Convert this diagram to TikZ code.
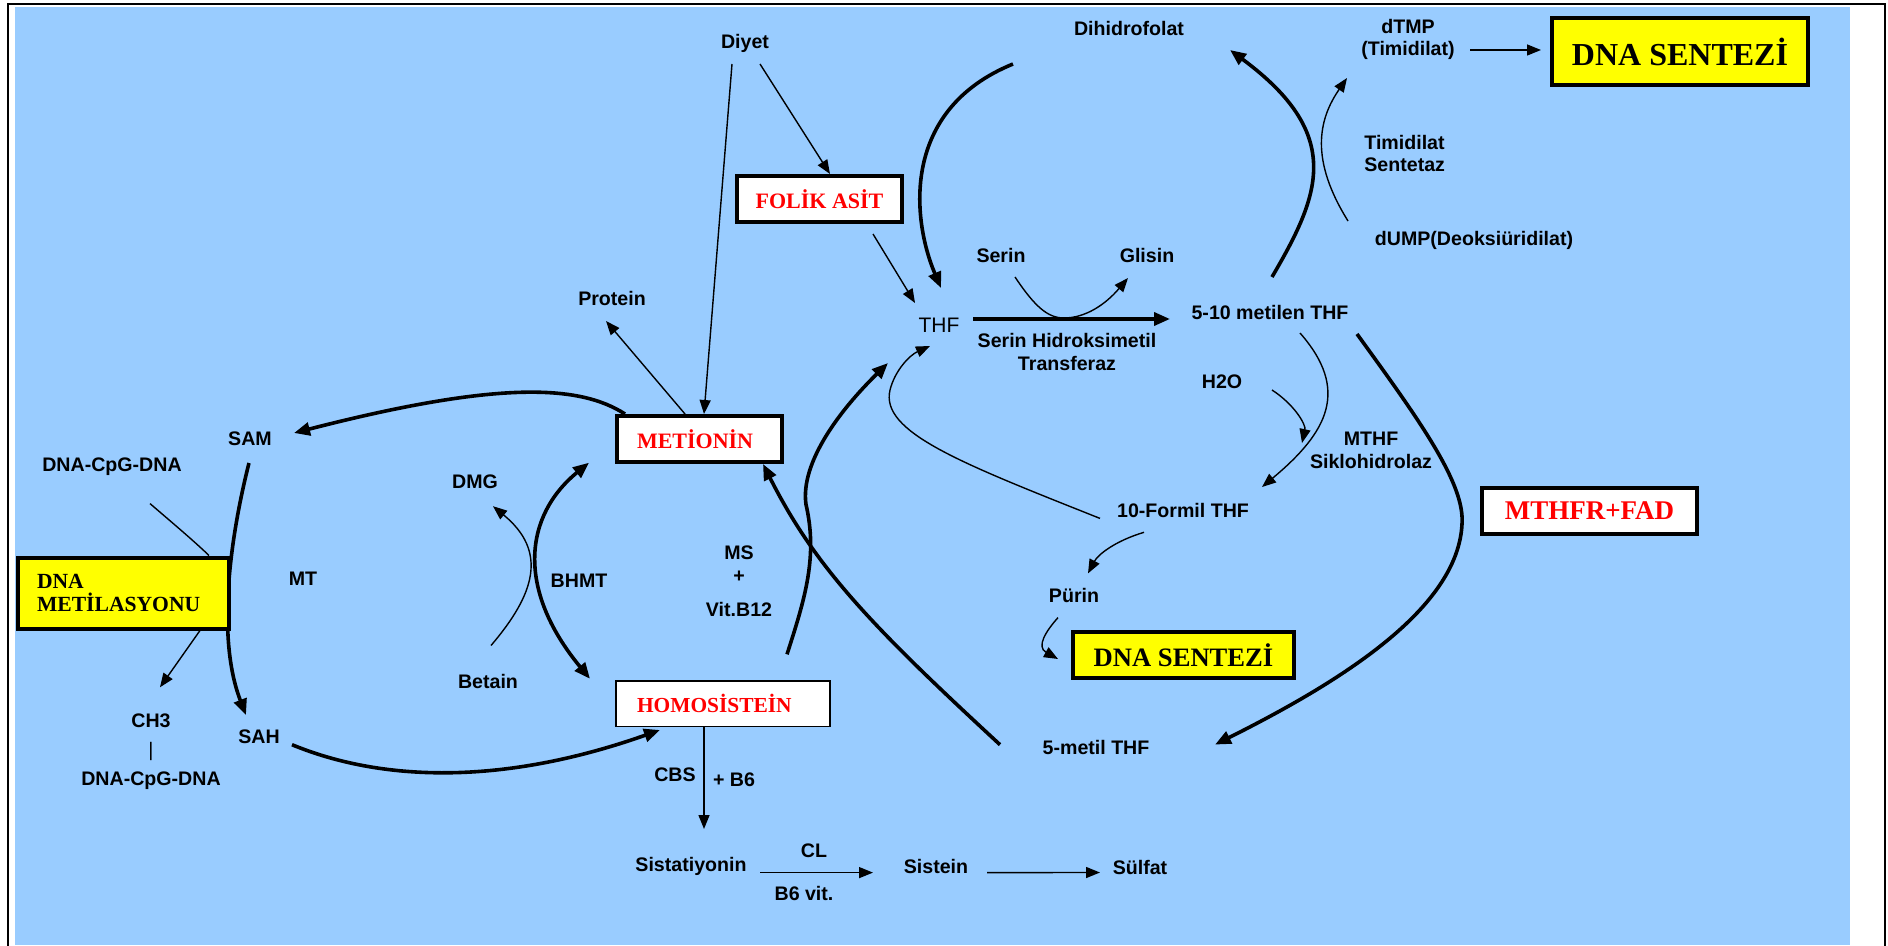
\documentclass[tikz,border=0pt]{standalone}
\usepackage{fontspec}
\setmainfont{Liberation Serif}
\setsansfont{Liberation Sans}
\usetikzlibrary{arrows.meta,calc}
\definecolor{bgblue}{RGB}{153,204,255}
\definecolor{boxyellow}{RGB}{255,255,0}
\definecolor{boxred}{RGB}{255,0,0}
\pgfdeclarelayer{back}
\pgfsetlayers{back,main}
\begin{document}
\begin{tikzpicture}[x=0.5pt,y=-0.5pt,
  lbl/.style={font=\sffamily\bfseries\fontsize{9.8}{11.5}\selectfont, inner sep=0pt, align=center},
  thflbl/.style={font=\sffamily\fontsize{10.5}{12}\selectfont, inner sep=0pt},
  redbox/.style={draw, fill=white, line width=2pt, text=boxred, inner sep=0pt,
     font=\rmfamily\bfseries\fontsize{11}{13}\selectfont},
  yelbox/.style={draw, fill=boxyellow, line width=2pt, inner sep=0pt,
     font=\rmfamily\bfseries\fontsize{13.3}{15}\selectfont},
  thinarr/.style={line width=0.7pt, -{Triangle[length=7pt,width=5.5pt]}},
  thinline/.style={line width=0.7pt},
  thickarr/.style={line width=1.8pt, -{Triangle[length=8pt,width=6.5pt]}},
  thickboth/.style={line width=1.8pt, {Triangle[length=8pt,width=6.5pt]}-{Triangle[length=8pt,width=6.5pt]}},
]
\useasboundingbox (0,0) rectangle (1888,946);
\begin{pgfonlayer}{back}
\fill[white] (0,0) rectangle (1888,946);
\fill[bgblue] (15,7) rectangle (1850,945);
\draw[line width=1pt] (7.7,946) -- (7.7,4.3) -- (1885,4.3) -- (1885,946);
\end{pgfonlayer}

% ---------- nodes ----------
\node[lbl] (diyet) at (745,43) {Diyet};
\node[lbl] (dihidro) at (1129,28) {Dihidrofolat};
\node[lbl, font=\sffamily\bfseries\fontsize{9.8}{11}\selectfont] (dtmp) at (1408,39) {dTMP\\(Timidilat)};
\node[yelbox, minimum width=128pt, minimum height=33.5pt, font=\rmfamily\bfseries\fontsize{16}{18}\selectfont] (dnatop) at (1680,51.5) {DNA SENTEZİ};
\node[lbl, anchor=west, align=left, font=\sffamily\bfseries\fontsize{9.8}{11}\selectfont] (timidilat) at (1364,153) {Timidilat\\Sentetaz};
\node[lbl] (dump) at (1474,240) {dUMP(Deoksiüridilat)};
\node[redbox, minimum width=82.5pt, minimum height=23pt] (folik) at (819.5,199) {FOLİK ASİT};
\node[lbl] (serin) at (1001,255) {Serin};
\node[lbl] (glisin) at (1147,255) {Glisin};
\node[lbl] (protein) at (612,298) {Protein};
\node[thflbl] (thf) at (939,325) {THF};
\node[lbl] (metilen) at (1270,312) {5-10 metilen THF};
\node[lbl] (shmt) at (1067,351.5) {Serin Hidroksimetil\\Transferaz};
\node[lbl] (h2o) at (1222,382) {H2O};
\node[lbl] (mthf) at (1371,450) {MTHF\\Siklohidrolaz};
\node[lbl] (sam) at (250,439) {SAM};
\node[lbl] (dnacpg1) at (112,467) {DNA-CpG-DNA};
\node[redbox, minimum height=23pt, text width=62.5pt, inner xsep=10pt, align=left] (metionin) at (699.5,439) {METİONİN};
\node[lbl] (dmg) at (475,481.5) {DMG};
\node[lbl] (formil) at (1183,510.7) {10-Formil THF};
\node[redbox, minimum width=107.5pt, minimum height=23pt, font=\rmfamily\bfseries\fontsize{13.5}{15}\selectfont] (mthfr) at (1589.5,511) {MTHFR+FAD};
\node[lbl] (mt) at (303,579) {MT};
\node[lbl] (bhmt) at (579,581) {BHMT};
\node[lbl] (ms) at (739,581) {MS\\+\\[5.5pt]Vit.B12};
\node[lbl] (purin) at (1074,595.7) {Pürin};
\node[yelbox, minimum width=110.5pt, minimum height=23pt] (dnalow) at (1183.5,655) {DNA SENTEZİ};
\node[lbl] (betain) at (488,681.3) {Betain};
\node[redbox, line width=0.8pt, minimum height=22.7pt, text width=86pt, inner xsep=10.6pt, align=left, font=\rmfamily\bfseries\fontsize{10.7}{13}\selectfont] (homo) at (723,703.8) {HOMOSİSTEİN};
\node[lbl, font=\sffamily\bfseries\fontsize{9.8}{14.3}\selectfont] (ch3) at (151,751.7) {CH3\\{\mdseries |}\\DNA-CpG-DNA};
\node[lbl] (sah) at (259,737) {SAH};
\node[lbl] (fivemetil) at (1096,747) {5-metil THF};
\node[lbl] (cbs) at (675,774.3) {CBS};
\node[lbl] (plusb6) at (734,779.5) {+ B6};
\node[lbl] (sistatiyonin) at (691,866) {Sistatiyonin};
\node[lbl] (cl) at (814,851) {CL};
\node[lbl] (b6vit) at (804,893.7) {B6 vit.};
\node[lbl] (sistein) at (936,866) {Sistein};
\node[lbl] (sulfat) at (1140,867.3) {Sülfat};

% SAM -> SAH passes behind the DNA METILASYONU box
\begin{pgfonlayer}{back}
\draw[thickarr] ($(sam)+(-1,24)$) .. controls (232,530) and (215,635) .. ($(sah)+(-13,-22)$);
\end{pgfonlayer}
\node[yelbox, minimum height=35.5pt, text width=86.5pt, inner xsep=9.5pt, align=left, font=\rmfamily\bfseries\fontsize{10.8}{11.8}\selectfont] (dnamet) at (123.5,593) {DNA\\METİLASYONU};

% ---------- thin connectors ----------
\draw[thinarr] ($(diyet)+(-13,21)$) -- ($(metionin.north)+(4.5,0)$);
\draw[thinarr] ($(diyet)+(15,21)$) -- ($(folik.north)+(10.5,0)$);
\draw[thinarr] ($(folik.south)+(53.5,10)$) -- ($(thf)+(-24,-22)$);
\draw[thinarr] ($(metionin.north)+(-14.5,0)$) -- ($(protein)+(-6,23)$);
\draw[thinarr] ($(serin)+(14,22)$) .. controls (1035,307) and (1048,318) .. (1064,318) .. controls (1085,318) and (1105,305) .. ($(glisin)+(-19,23)$);
\draw[thinarr] ($(dump)+(-126,-19)$) .. controls (1310,160) and (1318,120) .. ($(dtmp)+(-61,39)$);
\draw[thinarr] ($(dtmp)+(62,11)$) -- ($(dnatop.west)+(-9,-1.5)$);
\draw[thinarr] ($(metilen)+(30,21)$) .. controls (1350,390) and (1328,432) .. ($(formil)+(79,-23.7)$);
\draw[thinarr] ($(h2o)+(50,8)$) .. controls (1295,405) and (1306,425) .. ($(mthf)+(-69,-7)$);
\draw[thinarr] ($(formil)+(-83,7.7)$) .. controls (960,462.7) and (880,432) .. (890,390) .. controls (895,370) and (910,355) .. ($(thf)+(-9,21)$);
\draw[thinarr] ($(formil)+(-39,21.6)$) .. controls (1115,541) and (1098,554.6) .. ($(purin)+(14,-22.3)$);
\draw[thinarr] ($(purin)+(-16,21.9)$) .. controls (1046,631) and (1036,646.7) .. ($(dnalow.west)+(-13,4)$);
\draw[thinarr] ($(betain)+(3,-35.8)$) .. controls (535,594) and (548,551.5) .. ($(dmg)+(18,24.7)$);
\draw[thinline] ($(dnacpg1)+(38,36.6)$) .. controls (175,525) and (195,542) .. ($(dnamet.north)+(85.5,0)$);
\draw[thinarr] ($(dnamet.south)+(76.5,0)$) -- ($(ch3)+(9,-64.4)$);
\draw[thinarr] ($(homo.south)+(-19,0)$) -- ($(sistatiyonin)+(13,-37)$);
\draw[thinarr] ($(sistatiyonin)+(69,6.6)$) -- ($(sistein)+(-63,6.6)$);
\draw[thinarr] ($(sistein)+(51,6.6)$) -- ($(sulfat)+(-40,5.2)$);

% ---------- thick connectors ----------
\draw[thickarr] ($(metionin.north west)+(10,0)$) .. controls (580,385) and (500,380) .. ($(sam)+(44,-6)$);
\draw[thickarr] ($(sah)+(33,7.7)$) .. controls (380,781) and (500,786.5) .. ($(homo.south west)+(45,2.7)$);
\draw[thickboth] ($(metionin.south west)+(-26,-1.3)$) .. controls (525,515) and (515,588) .. ($(homo.north west)+(-25,-1.5)$);
\draw[thickarr] ($(fivemetil)+(-96,-2.3)$) .. controls (870,624.6) and (815,567) .. ($(metionin.south east)+(-21,0)$);
\draw[thickarr] ($(homo.north)+(64,-26)$) .. controls (805,598.5) and (818,556.7) .. (806,504.5) .. controls (800,462.7) and (840,410) .. ($(thf)+(-51,38)$);
\draw[thickarr] ($(dihidro)+(-116,36)$) .. controls (900,110) and (912,220) .. ($(thf)+(2,-37)$);
\draw[thickarr] ($(thf)+(34,-6)$) -- ($(metilen)+(-100,7)$);
\draw[thickarr] ($(metilen)+(2,-35)$) .. controls (1320,195) and (1345,135) .. ($(dihidro)+(101,22)$);
\draw[thickarr] ($(metilen)+(87,22)$) .. controls (1420,421) and (1465,483.6) .. (1462,524) .. controls (1458,609) and (1340,682) .. ($(fivemetil)+(119,-2.4)$);
\end{tikzpicture}
\end{document}
